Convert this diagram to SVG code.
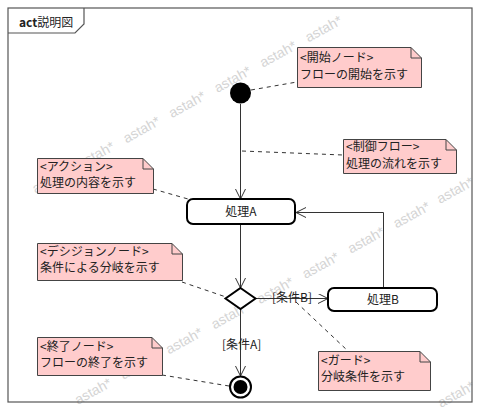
<svg xmlns="http://www.w3.org/2000/svg" width="481" height="412" viewBox="0 0 481 412">
<style>
.wm{font-family:"Liberation Sans","Noto Sans",sans-serif;font-size:14px;fill:#d4d4d4}
.t{font-family:"Noto Sans CJK JP","Noto Sans",sans-serif;font-size:12px;fill:#222}
.note{fill:#ffcccc;stroke:#444;stroke-width:1}
.fold{fill:none;stroke:#444;stroke-width:1}
.flow{fill:none;stroke:#333;stroke-width:1}
.dash{fill:none;stroke:#333;stroke-width:1;stroke-dasharray:4,4}
.act{fill:#fff;stroke:#000;stroke-width:2}
</style>
<defs>
<marker id="arr" markerUnits="userSpaceOnUse" markerWidth="12" markerHeight="12" refX="10" refY="5" orient="auto">
<path d="M0,0 L10,5 L0,10" fill="none" stroke="#333" stroke-width="1"/>
</marker>
</defs>
<rect width="481" height="412" fill="#fff"/>
<g id="watermark">
<text class="wm" x="35.5" y="193.8" transform="rotate(-29 35.5 193.8)">astah*</text>
<text class="wm" x="81" y="168.6" transform="rotate(-29 81 168.6)">astah*</text>
<text class="wm" x="126.5" y="143.4" transform="rotate(-29 126.5 143.4)">astah*</text>
<text class="wm" x="172" y="118.2" transform="rotate(-29 172 118.2)">astah*</text>
<text class="wm" x="217.5" y="93" transform="rotate(-29 217.5 93)">astah*</text>
<text class="wm" x="263" y="67.8" transform="rotate(-29 263 67.8)">astah*</text>
<text class="wm" x="308.5" y="42.6" transform="rotate(-29 308.5 42.6)">astah*</text>
<text class="wm" x="78" y="405" transform="rotate(-29 78 405)">astah*</text>
<text class="wm" x="123.5" y="379.8" transform="rotate(-29 123.5 379.8)">astah*</text>
<text class="wm" x="169" y="354.6" transform="rotate(-29 169 354.6)">astah*</text>
<text class="wm" x="214.5" y="329.4" transform="rotate(-29 214.5 329.4)">astah*</text>
<text class="wm" x="260" y="304.2" transform="rotate(-29 260 304.2)">astah*</text>
<text class="wm" x="305.5" y="279" transform="rotate(-29 305.5 279)">astah*</text>
<text class="wm" x="351" y="253.8" transform="rotate(-29 351 253.8)">astah*</text>
<text class="wm" x="396.5" y="228.6" transform="rotate(-29 396.5 228.6)">astah*</text>
<text class="wm" x="440" y="204" transform="rotate(-29 440 204)">astah*</text>
<text class="wm" x="441" y="408" transform="rotate(-29 441 408)">astah*</text>
</g>
<g id="frame">
<rect x="8" y="8" width="464" height="394" fill="none" stroke="#555" stroke-width="1.2"/>
<path d="M8,33 H75 L84,24 V8" fill="none" stroke="#555" stroke-width="1.2"/>
<text class="t" x="19" y="27"><tspan font-weight="bold">act</tspan>説明図</text>
</g>
<g id="connectors">
<line class="flow" x1="240.5" y1="104" x2="240.5" y2="199" marker-end="url(#arr)"/>
<line class="flow" x1="240.5" y1="224" x2="240.5" y2="288" marker-end="url(#arr)"/>
<line class="flow" x1="256" y1="298.5" x2="328" y2="298.5" marker-end="url(#arr)"/>
<line class="flow" x1="240.5" y1="308" x2="240.5" y2="376" marker-end="url(#arr)"/>
<polyline class="flow" points="383.5,288 383.5,212.5 296,212.5" marker-end="url(#arr)"/>
<text class="t" x="272" y="302">[条件B]</text>
<text class="t" x="222" y="349">[条件A]</text>
<line class="dash" x1="251" y1="90" x2="297" y2="82"/>
<line class="dash" x1="242" y1="151" x2="343" y2="155"/>
<line class="dash" x1="153" y1="189" x2="188" y2="199"/>
<line class="dash" x1="182" y1="282" x2="226" y2="297"/>
<line class="dash" x1="296" y1="302" x2="348" y2="351"/>
<line class="dash" x1="162" y1="375" x2="229" y2="386"/>
</g>
<g id="start">
<circle cx="240.5" cy="93" r="10.5" fill="#000"/>
</g>
<g id="actionA">
<rect class="act" x="187" y="199" width="108" height="25" rx="6"/>
<text class="t" x="241" y="216" text-anchor="middle">処理A</text>
</g>
<g id="decision">
<polygon points="240.5,288 255.5,298.5 240.5,309 225.5,298.5" fill="#fff" stroke="#000" stroke-width="2"/>
</g>
<g id="actionB">
<rect class="act" x="328" y="288" width="109" height="23" rx="6"/>
<text class="t" x="383" y="304" text-anchor="middle">処理B</text>
</g>
<g id="final">
<circle cx="240.5" cy="387" r="10.5" fill="#fff" stroke="#000" stroke-width="2"/>
<circle cx="240.5" cy="387" r="7" fill="#000"/>
</g>
<g id="note-start">
<path class="note" d="M297.5,47.5 H411 L421.5,58 V87.5 H297.5 Z"/>
<path class="fold" d="M411,47.5 V58 H421.5"/>
<text class="t" x="300" y="62">&lt;開始ノード&gt;</text>
<text class="t" x="300" y="79">フローの開始を示す</text>
</g>
<g id="note-flow">
<path class="note" d="M343.5,139.5 H446 L456.5,150 V173.5 H343.5 Z"/>
<path class="fold" d="M446,139.5 V150 H456.5"/>
<text class="t" x="346" y="151">&lt;制御フロー&gt;</text>
<text class="t" x="346" y="168">処理の流れを示す</text>
</g>
<g id="note-action">
<path class="note" d="M37.5,158.5 H143 L153.5,169 V193.5 H37.5 Z"/>
<path class="fold" d="M143,158.5 V169 H153.5"/>
<text class="t" x="40" y="171">&lt;アクション&gt;</text>
<text class="t" x="40" y="187">処理の内容を示す</text>
</g>
<g id="note-decision">
<path class="note" d="M37.5,243.5 H172 L182.5,254 V280.5 H37.5 Z"/>
<path class="fold" d="M172,243.5 V254 H182.5"/>
<text class="t" x="40" y="256">&lt;デシジョンノード&gt;</text>
<text class="t" x="40" y="272">条件による分岐を示す</text>
</g>
<g id="note-final">
<path class="note" d="M37.5,337.5 H152 L162.5,348 V375.5 H37.5 Z"/>
<path class="fold" d="M152,337.5 V348 H162.5"/>
<text class="t" x="40" y="351">&lt;終了ノード&gt;</text>
<text class="t" x="40" y="367">フローの終了を示す</text>
</g>
<g id="note-guard">
<path class="note" d="M318.5,351.5 H420 L430.5,362 V390.5 H318.5 Z"/>
<path class="fold" d="M420,351.5 V362 H430.5"/>
<text class="t" x="321" y="365">&lt;ガード&gt;</text>
<text class="t" x="321" y="381">分岐条件を示す</text>
</g>
</svg>
